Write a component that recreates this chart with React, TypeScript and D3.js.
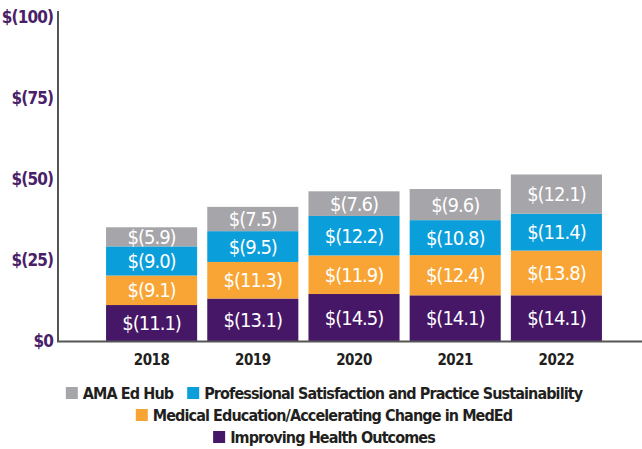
import React, { useEffect, useRef } from "react";
import { select, scaleBand, scaleLinear, stack } from "d3";

const years = ["2018", "2019", "2020", "2021", "2022"];
const healthOutcomes = [11.1, 13.1, 14.5, 14.1, 14.1];
const medEd = [9.1, 11.3, 11.9, 12.4, 13.8];
const profSatisfaction = [9.0, 9.5, 12.2, 10.8, 11.4];
const edHub = [5.9, 7.5, 7.6, 9.6, 12.1];
const yTicks = [0, 25, 50, 75, 100];

const keys = ["health", "meded", "prof", "hub"];
const colors = {
  health: "#461667",
  meded: "#f8a535",
  prof: "#0a9edb",
  hub: "#a6a5a9",
};
const legendRows = [
  [
    { key: "hub", label: "AMA Ed Hub" },
    { key: "prof", label: "Professional Satisfaction and Practice Sustainability" },
  ],
  [{ key: "meded", label: "Medical Education/Accelerating Change in MedEd" }],
  [{ key: "health", label: "Improving Health Outcomes" }],
];

const FONT = "'DejaVu Sans Condensed', 'DejaVu Sans', sans-serif";

// condensed text helper
const txt = (sel, spacing) =>
  sel
    .attr("font-family", FONT)
    .style("font-stretch", "condensed")
    .style("letter-spacing", `${spacing}px`);

const App = () => {
  const svgRef = useRef(null);

  useEffect(() => {
    document.body.style.margin = "0";
    const svg = select(svgRef.current);
    svg.selectAll("*").remove();

    const data = years.map((y, i) => ({
      year: y,
      health: healthOutcomes[i],
      meded: medEd[i],
      prof: profSatisfaction[i],
      hub: edHub[i],
    }));
    const layers = stack().keys(keys)(data);

    const x = scaleBand().domain(years).range([101, 607]).paddingInner(0.1).paddingOuter(0.05);
    const y = scaleLinear().domain([0, 100]).range([341, 17]);

    // bars
    const g = svg
      .selectAll(".layer")
      .data(layers)
      .join("g")
      .attr("class", "layer");

    g.selectAll("rect")
      .data((layer) => layer.map((d) => ({ d, key: layer.key })))
      .join("rect")
      .attr("x", ({ d }) => x(d.data.year))
      .attr("width", x.bandwidth())
      .attr("y", ({ d }) => y(d[1]))
      .attr("height", ({ d }) => y(d[0]) - y(d[1]))
      .attr("fill", ({ key }) => colors[key]);

    g.selectAll("text")
      .data((layer) => layer)
      .join("text")
      .attr("x", (d) => x(d.data.year) + x.bandwidth() / 2)
      .attr("y", (d) => (y(d[0]) + y(d[1])) / 2)
      .attr("dy", "0.36em")
      .attr("text-anchor", "middle")
      .attr("fill", "#fff")
      .attr("font-size", 20)
      .call(txt, -1)
      .text((d) => `$(${(d[1] - d[0]).toFixed(1)})`);

    // axes
    svg
      .append("line")
      .attr("x1", 58)
      .attr("x2", 58)
      .attr("y1", 11)
      .attr("y2", y(0))
      .attr("stroke", "#555")
      .attr("stroke-width", 2);
    svg
      .append("line")
      .attr("x1", 57)
      .attr("x2", 642)
      .attr("y1", y(0) + 0.5)
      .attr("y2", y(0) + 0.5)
      .attr("stroke", "#555")
      .attr("stroke-width", 2);

    svg
      .selectAll(".ytick")
      .data(yTicks)
      .join("text")
      .attr("class", "ytick")
      .attr("x", 53)
      .attr("y", (d) => y(d))
      .attr("dy", "0.36em")
      .attr("text-anchor", "end")
      .attr("fill", "#4a2168")
      .attr("font-weight", "bold")
      .attr("font-size", 17)
      .call(txt, -0.9)
      .text((d) => (d === 0 ? "$0" : `$(${d})`));

    svg
      .selectAll(".xtick")
      .data(years)
      .join("text")
      .attr("class", "xtick")
      .attr("x", (d) => x(d) + x.bandwidth() / 2)
      .attr("y", 360)
      .attr("dy", "0.36em")
      .attr("text-anchor", "middle")
      .attr("fill", "#231f20")
      .attr("font-weight", "bold")
      .attr("font-size", 15)
      .call(txt, -0.5)
      .text((d) => d);

    // legend, each row centred
    const rowY = [393, 415, 437];
    const sq = 12;
    legendRows.forEach((row, ri) => {
      const rg = svg.append("g");
      let cx = 0;
      row.forEach((item, ii) => {
        if (ii > 0) cx += 14;
        rg.append("rect")
          .attr("x", cx)
          .attr("y", rowY[ri] - sq / 2)
          .attr("width", sq)
          .attr("height", sq)
          .attr("fill", colors[item.key]);
        const t = rg
          .append("text")
          .attr("x", cx + sq + 5)
          .attr("y", rowY[ri])
          .attr("dy", "0.36em")
          .attr("fill", "#231f20")
          .attr("font-weight", "bold")
          .attr("font-size", 16)
          .call(txt, -0.9)
          .text(item.label);
        cx += sq + 5 + t.node().getComputedTextLength();
      });
      rg.attr("transform", `translate(${324 - cx / 2},0)`);
    });
  }, []);

  return <svg ref={svgRef} width={642} height={449} style={{ display: "block", background: "#fff" }} />;
};

export default App;
